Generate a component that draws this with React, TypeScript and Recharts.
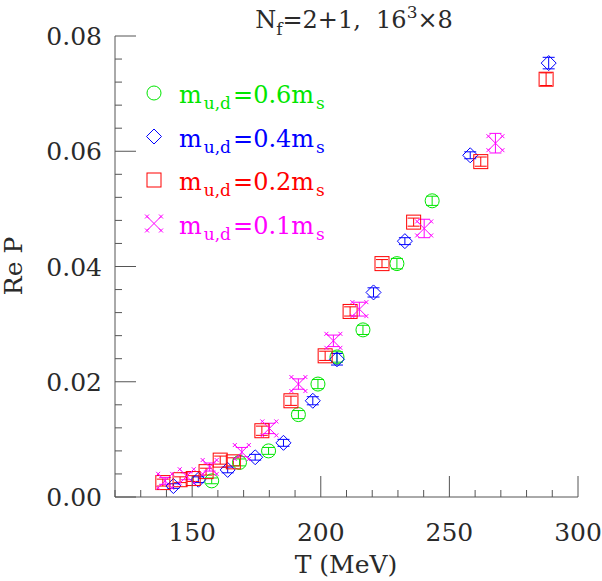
import { ScatterChart, Scatter, XAxis, YAxis, ErrorBar, Customized } from 'recharts';

// N_f = 2+1, 16^3 x 8 : Polyakov loop vs temperature
const greenT = [157.6, 168.4, 179.7, 191.3, 198.9, 206.3, 216.4, 229.6, 243.3];
const greenP = [0.0028, 0.006, 0.008, 0.0143, 0.0196, 0.0243, 0.029, 0.0405, 0.0514];
const greenErr = [0.0005, 0.0006, 0.0006, 0.0007, 0.0008, 0.0009, 0.0008, 0.0009, 0.0008];

const blueT = [142.7, 152.4, 163.8, 174.5, 185.5, 196.9, 206.3, 220.5, 232.7, 258.1, 288.6];
const blueP = [0.0019, 0.003, 0.0047, 0.0069, 0.0094, 0.0167, 0.0239, 0.0355, 0.0444, 0.0593, 0.0753];
const blueErr = [0.0004, 0.0005, 0.0005, 0.0005, 0.0006, 0.0007, 0.001, 0.0008, 0.0006, 0.0006, 0.001];

const redT = [138.6, 145.3, 150.4, 155.4, 160.9, 166.0, 177.1, 188.4, 201.7, 211.4, 223.8, 236.1, 262.2, 287.6];
const redP = [0.0025, 0.003, 0.0032, 0.0044, 0.0064, 0.0061, 0.0115, 0.0167, 0.0245, 0.0322, 0.0405, 0.0477, 0.0582, 0.0725];
const redErr = [0.0006, 0.0005, 0.0005, 0.0006, 0.0007, 0.0007, 0.0008, 0.0008, 0.0008, 0.0008, 0.0007, 0.0007, 0.0008, 0.0011];

const magentaT = [139.5, 147.9, 156.8, 169.3, 180.0, 191.3, 204.9, 215.0, 240.2, 267.9];
const magentaP = [0.0028, 0.0036, 0.0052, 0.0078, 0.0119, 0.0196, 0.0271, 0.0326, 0.0466, 0.0614];
const magentaErr = [0.0006, 0.0006, 0.0007, 0.0008, 0.0009, 0.0009, 0.001, 0.0012, 0.0016, 0.0017];

const xMajor = [150, 200, 250, 300];
const yMajor = [0, 0.02, 0.04, 0.06, 0.08];
const xMinorStep = 10;
const yMinorStep = 0.004;

const GREEN = '#00e600';
const BLUE = '#0000ff';
const RED = '#ff0000';
const MAGENTA = '#ff00ff';
const FRAME = '#555';
const INK = '#2a2a2a';
const FONT = '"DejaVu Serif", serif';

const toPoints = (t: number[], p: number[], e: number[]) =>
  t.map((T, i) => ({ T, P: p[i], err: e[i] }));

const X_MIN = 120;
const X_MAX = 300;
const xTicks: number[] = [];
for (let v = X_MIN; v <= X_MAX; v += xMinorStep) xTicks.push(v);
const yTicks: number[] = [];
for (let i = 0; i <= 20; i++) yTicks.push(+(i * yMinorStep).toFixed(3));

const isMajorX = (v: number) => xMajor.includes(v);
const isMajorY = (v: number) => yMajor.some(m => Math.abs(m - v) < 1e-9);

// marker shapes
const drawCircle = (cx: number, cy: number, c: string) => (
  <circle cx={cx} cy={cy} r={7} fill="none" stroke={c} strokeWidth={1} />
);
const drawDiamond = (cx: number, cy: number, c: string) => (
  <path
    d={`M${cx},${cy - 7.5}L${cx + 7.5},${cy}L${cx},${cy + 7.5}L${cx - 7.5},${cy}Z`}
    fill="none"
    stroke={c}
    strokeWidth={1}
  />
);
const drawSquare = (cx: number, cy: number, c: string) => (
  <rect x={cx - 7} y={cy - 7} width={14} height={14} fill="none" stroke={c} strokeWidth={1} />
);
const drawCross = (cx: number, cy: number, c: string) => {
  const s = 7;
  const k = 2;
  const ends = [
    [cx - s, cy - s],
    [cx + s, cy - s],
    [cx - s, cy + s],
    [cx + s, cy + s],
  ];
  return (
    <g stroke={c} strokeWidth={1} fill="none">
      <line x1={cx - s} y1={cy - s} x2={cx + s} y2={cy + s} />
      <line x1={cx + s} y1={cy - s} x2={cx - s} y2={cy + s} />
      {ends.map(([ex, ey], i) => (
        <g key={i}>
          <line x1={ex - k} y1={ey - k} x2={ex + k} y2={ey + k} />
          <line x1={ex + k} y1={ey - k} x2={ex - k} y2={ey + k} />
        </g>
      ))}
    </g>
  );
};

const series = [
  { name: '0.6', data: toPoints(greenT, greenP, greenErr), color: GREEN, draw: drawCircle },
  { name: '0.4', data: toPoints(blueT, blueP, blueErr), color: BLUE, draw: drawDiamond },
  { name: '0.2', data: toPoints(redT, redP, redErr), color: RED, draw: drawSquare },
  { name: '0.1', data: toPoints(magentaT, magentaP, magentaErr), color: MAGENTA, draw: drawCross },
];

const BottomTick = (props: any) => {
  const { x, y, payload } = props;
  const major = isMajorX(payload.value);
  return (
    <g>
      <line x1={x} x2={x} y1={y} y2={y - (major ? 21 : 7)} stroke={FRAME} />
      {major && (
        <text x={x} y={y + 44} textAnchor="middle" fontFamily={FONT} fontSize={25} fill={INK}>
          {payload.value}
        </text>
      )}
    </g>
  );
};

const TopTick = (props: any) => {
  const { x, y, payload } = props;
  const major = isMajorX(payload.value);
  return <line x1={x} x2={x} y1={y} y2={y + (major ? 21 : 7)} stroke={FRAME} />;
};

const LeftTick = (props: any) => {
  const { x, y, payload } = props;
  const major = isMajorY(payload.value);
  return (
    <g>
      <line x1={x} x2={x + (major ? 21 : 7)} y1={y} y2={y} stroke={FRAME} />
      {major && (
        <text x={x - 13} y={y + 9} textAnchor="end" fontFamily={FONT} fontSize={25} fill={INK}>
          {payload.value.toFixed(2)}
        </text>
      )}
    </g>
  );
};

const RightTick = (props: any) => {
  const { x, y, payload } = props;
  const major = isMajorY(payload.value);
  return <line x1={x} x2={x - (major ? 21 : 7)} y1={y} y2={y} stroke={FRAME} />;
};

const Annotations = () => {
  const rows = [93, 136.5, 180, 223.5];
  return (
    <g>
      <text
        x={354}
        y={28}
        textAnchor="middle"
        fontFamily={FONT}
        fontSize={24}
        fill={INK}
        style={{ whiteSpace: 'pre' }}
      >
        N
        <tspan fontSize={17} dy={7}>f</tspan>
        <tspan dy={-7}>=2+1,  16</tspan>
        <tspan fontSize={17} dy={-10}>3</tspan>
        <tspan dy={10}>×8</tspan>
      </text>
      <text x={346} y={573} textAnchor="middle" fontFamily={FONT} fontSize={25} fill={INK}>
        T (MeV)
      </text>
      <text
        x={0}
        y={0}
        transform="translate(22,266) rotate(-90)"
        textAnchor="middle"
        fontFamily={FONT}
        fontSize={25}
        fill={INK}
      >
        Re P
      </text>
      {series.map((s, i) => (
        <g key={s.name}>
          {s.draw(154, rows[i], s.color)}
          <text x={179} y={rows[i] + 10} fontFamily={FONT} fontSize={24} fill={s.color}>
            m
            <tspan fontSize={17} dx={2} dy={6}>u,d</tspan>
            <tspan dx={2} dy={-6}>{`=${s.name}m`}</tspan>
            <tspan fontSize={17} dx={2} dy={6}>s</tspan>
          </text>
        </g>
      ))}
    </g>
  );
};

export default function App() {
  return (
    <div style={{ position: 'absolute', left: 0, top: 0, background: '#fff' }}>
      <ScatterChart width={602} height={581} margin={{ top: 36, right: 24, left: 0, bottom: 0 }}>
        <XAxis
          dataKey="T"
          type="number"
          domain={[X_MIN, X_MAX]}
          ticks={xTicks}
          interval={0}
          height={84}
          tickSize={0}
          tickMargin={0}
          tickLine={false}
          axisLine={{ stroke: FRAME }}
          tick={<BottomTick />}
        />
        <XAxis
          xAxisId="top"
          orientation="top"
          type="number"
          domain={[X_MIN, X_MAX]}
          ticks={xTicks}
          interval={0}
          height={0}
          tickSize={0}
          tickMargin={0}
          tickLine={false}
          axisLine={{ stroke: FRAME }}
          tick={<TopTick />}
        />
        <YAxis
          dataKey="P"
          type="number"
          domain={[0, 0.08]}
          ticks={yTicks}
          interval={0}
          width={115}
          tickSize={0}
          tickMargin={0}
          tickLine={false}
          axisLine={{ stroke: FRAME }}
          tick={<LeftTick />}
        />
        <YAxis
          yAxisId="right"
          orientation="right"
          type="number"
          domain={[0, 0.08]}
          ticks={yTicks}
          interval={0}
          width={0}
          tickSize={0}
          tickMargin={0}
          tickLine={false}
          axisLine={{ stroke: FRAME }}
          tick={<RightTick />}
        />
        {series.map(s => (
          <Scatter
            key={s.name}
            data={s.data}
            isAnimationActive={false}
            shape={(p: any) => s.draw(p.cx, p.cy, s.color)}
          >
            <ErrorBar dataKey="err" direction="y" width={6} stroke={s.color} strokeWidth={1} />
          </Scatter>
        ))}
        <Customized component={<Annotations />} />
      </ScatterChart>
    </div>
  );
}
